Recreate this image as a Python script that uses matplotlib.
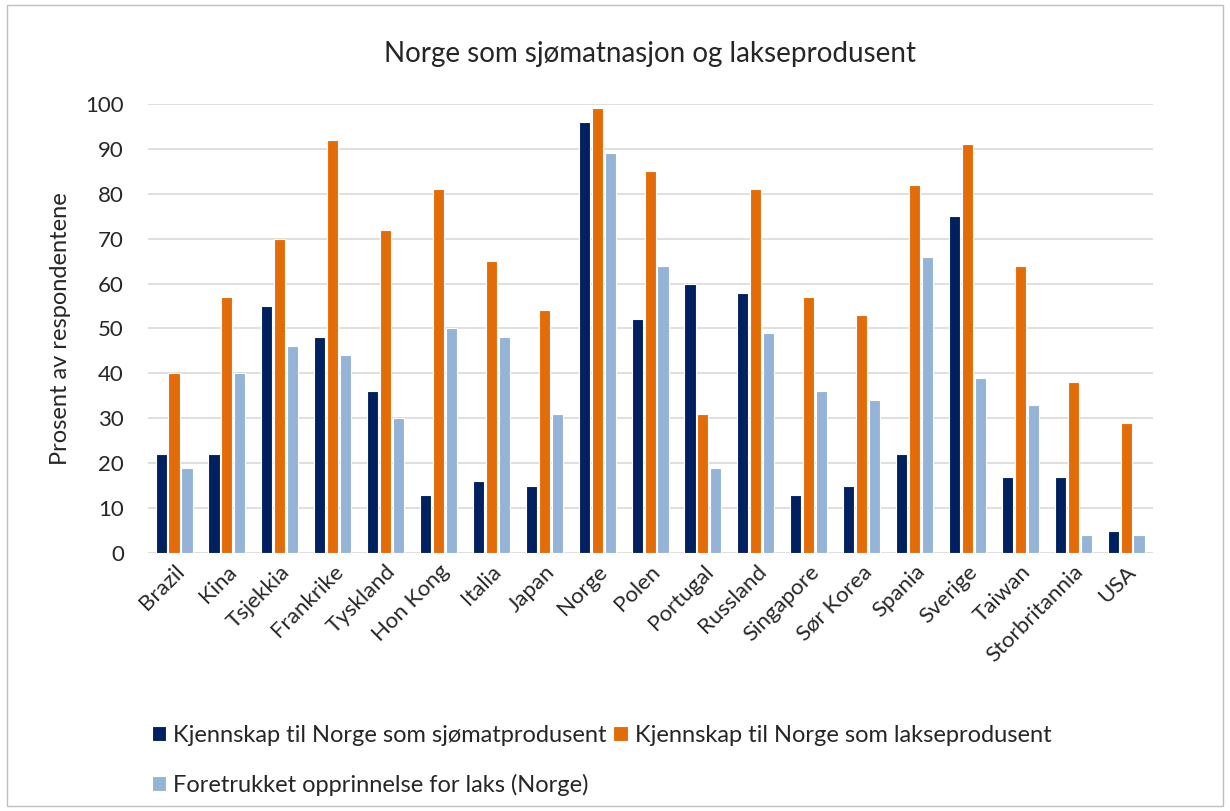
import matplotlib.pyplot as plt
import numpy as np
from matplotlib.patches import Rectangle

plt.rcParams['font.family'] = ['Lato', 'DejaVu Sans']

countries = ['Brazil', 'Kina', 'Tsjekkia', 'Frankrike', 'Tyskland', 'Hon Kong',
             'Italia', 'Japan', 'Norge', 'Polen', 'Portugal', 'Russland',
             'Singapore', 'Sør Korea', 'Spania', 'Sverige', 'Taiwan',
             'Storbritannia', 'USA']
sjomat = [22, 22, 55, 48, 36, 13, 16, 15, 96, 52, 60, 58, 13, 15, 22, 75, 17, 17, 5]
laks = [40, 57, 70, 92, 72, 81, 65, 54, 99, 85, 31, 81, 57, 53, 82, 91, 64, 38, 29]
foretrukket = [19, 40, 46, 44, 30, 50, 48, 31, 89, 64, 19, 49, 36, 34, 66, 39, 33, 4, 4]

series_names = ['Kjennskap til Norge som sjømatprodusent',
                'Kjennskap til Norge som lakseprodusent',
                'Foretrukket opprinnelse for laks (Norge)']
colors = ['#002060', '#E36C09', '#95B3D7']

fig = plt.figure(figsize=(12.3, 8.11), dpi=100)
ax = fig.add_axes([0.120, 0.318, 0.817, 0.554])

x = np.arange(len(countries))
w = 0.21
step = 0.245
bars = []
for i, (vals, name, col) in enumerate(zip([sjomat, laks, foretrukket], series_names, colors)):
    b = ax.bar(x + (i - 1) * step, vals, width=w, color=col, edgecolor='white',
               linewidth=0.8, label=name, zorder=3)
    bars.append(b)

ax.set_ylim(0, 100)
ax.set_xlim(-0.5, len(countries) - 0.5)
ax.set_yticks(range(0, 101, 10))
ax.yaxis.grid(True, color='#d9d9d9', linewidth=1.2, zorder=0)
for s in ax.spines.values():
    s.set_visible(False)
ax.tick_params(axis='both', length=0, labelsize=16, colors='#262626')
ax.tick_params(axis='y', pad=17)
ax.tick_params(axis='x', pad=6)
ax.set_xticks(x)
ax.set_xticklabels(countries, rotation=45, ha='right', rotation_mode='anchor')
ax.set_ylabel('Prosent av respondentene', fontsize=17, color='#262626', labelpad=10)
ax.set_title('Norge som sjømatnasjon og lakseprodusent', fontsize=20, color='#262626', pad=30)

# column-major order so row 1 holds the two "Kjennskap" series
order = [0, 2, 1]
fig.legend([bars[i] for i in order], [series_names[i] for i in order],
           loc='lower left', bbox_to_anchor=(0.106, -0.008), ncol=2, frameon=False,
           fontsize=17, handlelength=0.6, handleheight=0.6, handletextpad=0.3,
           columnspacing=0.3, labelspacing=1.2, labelcolor='#262626')

fig.patches.append(Rectangle((0.006, 0.006), 0.988, 0.988, transform=fig.transFigure,
                             fill=False, edgecolor='#bfbfbf', linewidth=1))

fig.savefig('out.png', dpi=100)
